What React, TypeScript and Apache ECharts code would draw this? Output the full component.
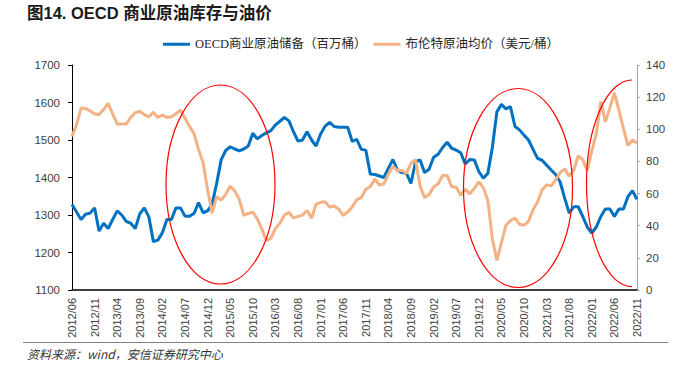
import React, { useEffect, useRef } from "react";
import * as echarts from "echarts";

// Monthly categories 2012/06 .. 2022/11
const startYear = 2012;
const startMonth = 6;
const monthCount = 126;
const categories: string[] = [];
for (let i = 0; i < monthCount; i++) {
  const t = startYear * 12 + (startMonth - 1) + i;
  const y = Math.floor(t / 12);
  const m = (t % 12) + 1;
  categories.push(`${y}/${String(m).padStart(2, "0")}`);
}

const oecdStocks = [
  1328, 1308, 1288, 1302, 1305, 1319, 1257, 1278, 1264, 1288,
  1311, 1300, 1283, 1278, 1264, 1303, 1319, 1295, 1229, 1233,
  1253, 1288, 1288, 1319, 1319, 1297, 1297, 1304, 1333, 1306,
  1311, 1329, 1384, 1447, 1472, 1482, 1476, 1471, 1476, 1484,
  1518, 1503, 1512, 1519, 1525, 1540, 1550, 1560, 1551, 1522,
  1497, 1500, 1522, 1500, 1484, 1516, 1537, 1547, 1536, 1534,
  1534, 1534, 1496, 1502, 1475, 1473, 1409, 1408, 1404, 1400,
  1425, 1448, 1420, 1413, 1411, 1384, 1442, 1447, 1413, 1422,
  1454, 1462, 1480, 1494, 1478, 1473, 1466, 1436, 1448, 1447,
  1416, 1398, 1411, 1480, 1575, 1595, 1583, 1589, 1536, 1527,
  1513, 1500, 1475, 1451, 1446, 1433, 1420, 1408, 1388, 1345,
  1305, 1322, 1322, 1296, 1268, 1252, 1268, 1296, 1316, 1316,
  1296, 1316, 1316, 1349, 1365, 1342,
];

const brentPrice = [
  95.6, 102.8, 113.2, 113.0, 111.5, 109.5, 109.2,
  112.3, 116.1, 109.5, 103.3, 103.3, 103.3, 107.4, 110.3, 111.2, 109.1, 107.8, 110.6,
  107.4, 108.8, 107.4, 107.8, 109.7, 111.9, 106.9, 101.9, 97.3, 87.3, 79.4, 62.3,
  47.8, 58.1, 55.9, 59.5, 64.6, 61.7, 56.5, 46.5, 47.6, 48.4, 44.3, 38.0,
  30.7, 32.2, 38.2, 41.6, 46.7, 48.3, 44.9, 45.8, 46.6, 49.5, 44.7, 53.3,
  54.6, 54.9, 51.6, 52.3, 50.3, 46.4, 48.5, 51.7, 56.2, 57.5, 62.7, 64.4,
  69.1, 65.3, 66.0, 72.1, 76.9, 74.4, 74.3, 72.5, 78.9, 81.0, 64.8, 57.4,
  59.4, 64.0, 66.1, 71.2, 71.3, 64.2, 63.9, 59.0, 62.8, 59.7, 63.2, 67.3,
  63.7, 55.7, 32.0, 18.4, 29.4, 40.3, 43.2, 44.7, 40.9, 40.2, 42.7, 49.9,
  54.8, 62.3, 65.4, 64.8, 68.5, 73.2, 75.2, 70.8, 74.5, 83.5, 81.1, 74.2,
  86.5, 97.1, 117.3, 104.6, 113.3, 122.7, 111.9, 100.5, 89.8, 93.3, 91.4,
];

const titleText = "图14. OECD 商业原油库存与油价";
const legendNames = ["OECD商业原油储备（百万桶）", "布伦特原油均价（美元/桶）"];
const sourceText = "资料来源：wind，安信证券研究中心";

const leftAxis = { min: 1100, max: 1700, interval: 100 };
const rightAxis = { min: 0, max: 140, interval: 20 };

let shapeRegistered = false;

export default function App() {
  const ref = useRef<HTMLDivElement>(null);
  useEffect(() => {
    if (!ref.current) return;
    if (!shapeRegistered) {
      echarts.graphic.registerShape(
        "halfEllipse",
        echarts.graphic.extendPath("M 632 80 A 45.5 103.3 0 0 0 632 286.6", {}) as any
      );
      shapeRegistered = true;
    }
    const chart = echarts.init(ref.current, null, { renderer: "svg" });
    const labelFont = "Liberation Sans, Noto Sans CJK SC";
    chart.setOption({
      animation: false,
      backgroundColor: "#ffffff",
      grid: { left: 72, right: 52, top: 65, bottom: 85, containLabel: false },
      legend: {
        left: 158,
        top: 33,
        icon: "rect",
        itemWidth: 27,
        itemHeight: 3,
        itemGap: 7,
        data: legendNames,
        textStyle: {
          fontSize: 12.5,
          color: "#262626",
          fontFamily: "Liberation Serif, Noto Sans CJK SC",
        },
      },
      xAxis: {
        type: "category",
        data: categories,
        boundaryGap: false,
        axisLine: { lineStyle: { color: "#000000", width: 1.5 } },
        axisTick: { show: false },
        axisLabel: {
          interval: 4,
          rotate: 90,
          margin: 8,
          fontSize: 11,
          color: "#404040",
          fontFamily: labelFont,
        },
        splitLine: { show: false },
      },
      yAxis: [
        {
          type: "value",
          ...leftAxis,
          position: "left",
          axisLine: { show: true, lineStyle: { color: "#000000", width: 1 } },
          axisTick: { show: true, length: 4, inside: false, lineStyle: { color: "#000000" } },
          axisLabel: {
            fontSize: 11.5,
            color: "#404040",
            margin: 12,
            fontFamily: labelFont,
            formatter: (v: number) => String(v),
          },
          splitLine: { show: false },
        },
        {
          type: "value",
          ...rightAxis,
          position: "right",
          axisLine: { show: true, lineStyle: { color: "#a6a6a6", width: 1 } },
          axisTick: { show: true, length: 3, lineStyle: { color: "#a6a6a6" } },
          axisLabel: {
            fontSize: 11.5,
            color: "#404040",
            margin: 9,
            fontFamily: labelFont,
            formatter: (v: number) => String(v),
          },
          splitLine: { show: false },
        },
      ],
      series: [
        {
          name: legendNames[0],
          type: "line",
          yAxisIndex: 0,
          data: oecdStocks,
          showSymbol: false,
          symbol: "none",
          color: "#0070C0",
          lineStyle: { color: "#0070C0", width: 3 },
          z: 2,
        },
        {
          name: legendNames[1],
          type: "line",
          yAxisIndex: 1,
          data: brentPrice,
          showSymbol: false,
          symbol: "none",
          color: "#F4B183",
          lineStyle: { color: "#F4B183", width: 3 },
          z: 3,
        },
      ],
      graphic: [
        {
          type: "text",
          left: 27,
          top: 5,
          style: {
            text: titleText,
            fontSize: 16.5,
            fontWeight: "bold",
            fill: "#1a1a1a",
            fontFamily: "Liberation Sans, Noto Sans CJK SC",
          },
        },
        {
          type: "ellipse",
          shape: { cx: 220.5, cy: 184.5, rx: 54.5, ry: 99.5 },
          style: { fill: "none", stroke: "#FF0000", lineWidth: 1.2 },
          z: 10,
        },
        {
          type: "ellipse",
          shape: { cx: 518, cy: 188, rx: 54.5, ry: 99.5 },
          style: { fill: "none", stroke: "#FF0000", lineWidth: 1.2 },
          z: 10,
        },
        {
          type: "halfEllipse",
          x: 0,
          y: 0,
          style: { fill: "none", stroke: "#FF0000", lineWidth: 1.2 },
          z: 10,
        },
        {
          type: "line",
          shape: { x1: 23, y1: 342.5, x2: 668, y2: 342.5 },
          style: { stroke: "#808080", lineWidth: 1 },
        },
        {
          type: "text",
          left: 27,
          top: 347,
          style: {
            text: sourceText,
            fontSize: 12,
            fontStyle: "italic",
            fill: "#333333",
            fontFamily: "Noto Sans CJK SC",
          },
        },
      ],
    });
    return () => chart.dispose();
  }, []);
  return (
    <div
      ref={ref}
      style={{ position: "fixed", left: 0, top: 0, width: 689, height: 375, background: "#fff" }}
    />
  );
}
